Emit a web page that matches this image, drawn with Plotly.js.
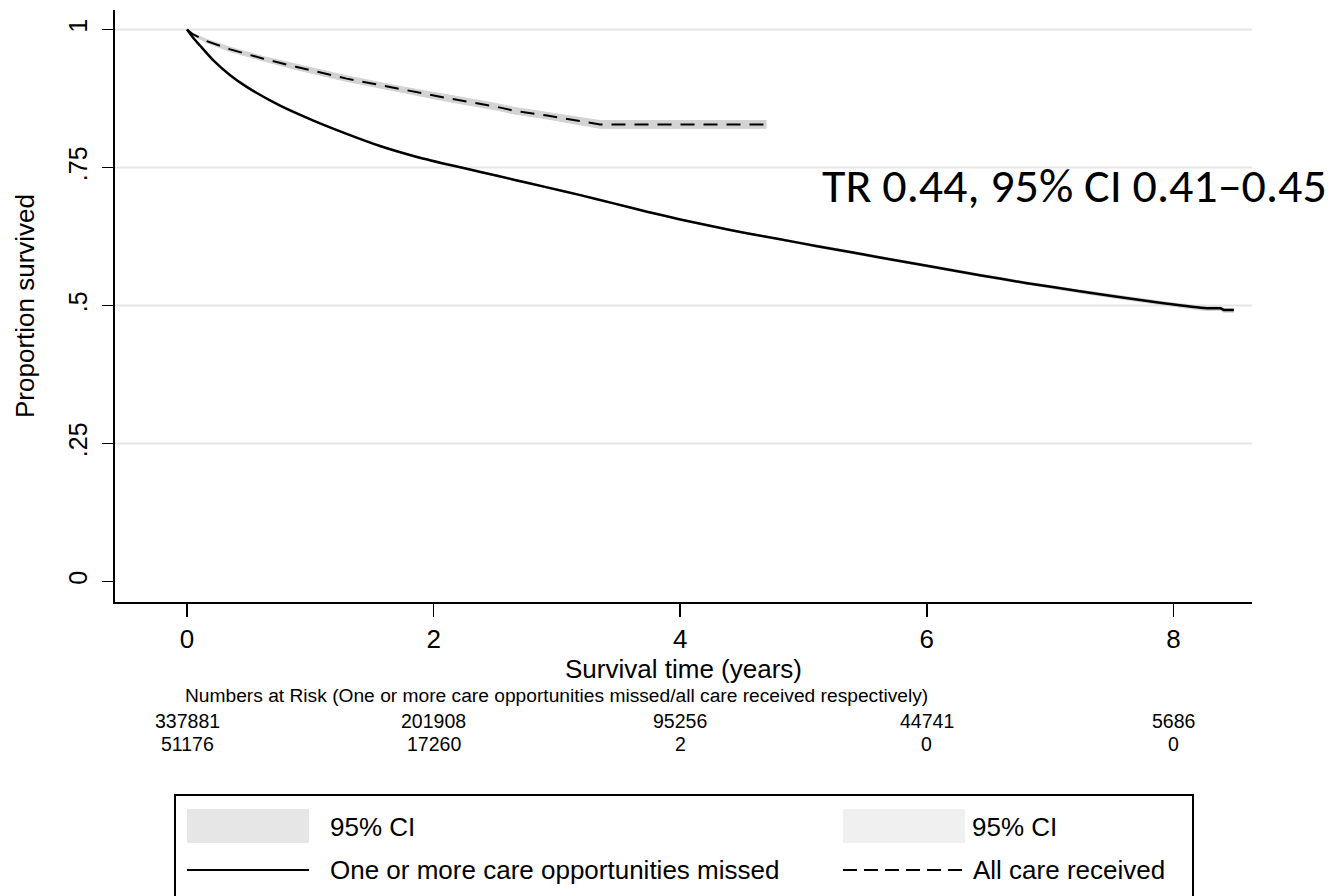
<!DOCTYPE html>
<html>
<head>
<meta charset="utf-8">
<script src="https://cdn.plot.ly/plotly-3.0.1.min.js"></script>
<style>html,body{margin:0;padding:0;background:#fff;}#chart{width:1330px;height:896px;}</style>
</head>
<body>
<div id="chart"></div>
<script>
// ---- data ----
var missedTime = [0,0.05,0.105,0.214,0.35,0.484,0.755,1.025,1.295,1.565,1.836,2.106,2.38,2.65,2.92,3.19,3.46,3.73,4.0,4.27,4.54,4.81,5.1,5.4,5.62,6.0,6.43,6.8,7.24,7.6,7.92,8.27,8.38,8.41,8.49];
var missedSurv = [1,0.985,0.971,0.944,0.917,0.896,0.862,0.835,0.811,0.789,0.771,0.756,0.742,0.728,0.714,0.700,0.685,0.670,0.656,0.643,0.631,0.620,0.608,0.596,0.587,0.572,0.555,0.541,0.526,0.514,0.504,0.495,0.495,0.492,0.492];
var missedLo   = [1,0.984,0.970,0.943,0.916,0.895,0.861,0.834,0.810,0.788,0.770,0.755,0.741,0.727,0.713,0.699,0.684,0.669,0.655,0.642,0.630,0.619,0.606,0.594,0.585,0.570,0.553,0.539,0.523,0.511,0.501,0.491,0.491,0.488,0.488];
var missedHi   = [1,0.986,0.972,0.945,0.918,0.897,0.863,0.836,0.812,0.790,0.772,0.757,0.743,0.729,0.715,0.701,0.686,0.671,0.657,0.644,0.632,0.621,0.610,0.598,0.589,0.574,0.557,0.543,0.528,0.517,0.507,0.498,0.498,0.495,0.495];

var allTime = [0,0.05,0.16,0.35,0.62,0.89,1.295,1.7,2.106,2.51,2.65,2.92,3.19,3.35,4.7];
var allSurv = [1,0.991,0.979,0.964,0.947,0.932,0.911,0.893,0.876,0.860,0.853,0.844,0.834,0.828,0.828];
var allLo   = [1,0.989,0.976,0.960,0.943,0.927,0.906,0.888,0.870,0.854,0.847,0.838,0.828,0.821,0.821];
var allHi   = [1,0.993,0.982,0.968,0.951,0.937,0.916,0.898,0.882,0.866,0.859,0.850,0.840,0.835,0.835];

var xTicks = [0,2,4,6,8];
var yTicks = [0,0.25,0.5,0.75,1];
var yTickText = ['0','.25','.5','.75','1'];
var gridVals = [0.25,0.5,0.75,1];

var riskTimes = [0,2,4,6,8];
var riskMissed = ['337881','201908','95256','44741','5686'];
var riskAll = ['51176','17260','2','0','0'];
var riskHeading = 'Numbers at Risk (One or more care opportunities missed/all care received respectively)';

var legendLabels = ['95% CI','95% CI','One or more care opportunities missed','All care received'];
var annotText = 'TR 0.44, 95% CI 0.41\u20130.45';

// ---- layout helpers (pixel -> paper) ----
var W = 1330, H = 896, ML = 115, MR = 78, MT = 10, MB = 294;
var PW = W - ML - MR, PH = H - MT - MB;
function px(x){ return (x - ML) / PW; }
function py(y){ return (H - MB - y) / PH; }

var FONT = 'Liberation Sans, Arial, sans-serif';
var CIFILL = '#d3d3d3';

var traces = [
  {x: missedTime, y: missedLo, mode:'lines', line:{color:CIFILL, width:1, shape:'spline', smoothing:0.6}, hoverinfo:'skip', showlegend:false},
  {x: missedTime, y: missedHi, mode:'lines', fill:'tonexty', fillcolor:CIFILL, line:{color:CIFILL, width:1, shape:'spline', smoothing:0.6}, hoverinfo:'skip', showlegend:false},
  {x: allTime, y: allLo, mode:'lines', line:{color:CIFILL, width:1}, hoverinfo:'skip', showlegend:false},
  {x: allTime, y: allHi, mode:'lines', fill:'tonexty', fillcolor:CIFILL, line:{color:CIFILL, width:1}, hoverinfo:'skip', showlegend:false},
  {x: missedTime, y: missedSurv, mode:'lines', line:{color:'#000', width:2.5, shape:'spline', smoothing:0.6}, name:legendLabels[2], showlegend:false},
  {x: allTime, y: allSurv, mode:'lines', line:{color:'#000', width:2, dash:'14px,9px'}, name:legendLabels[3], showlegend:false}
];

var shapes = [];
gridVals.forEach(function(v){
  shapes.push({type:'line', xref:'paper', yref:'y', x0:0, x1:1, y0:v, y1:v, layer:'below', line:{color:'#e6e6e6', width:2}});
});
// legend box
shapes.push({type:'rect', xref:'paper', yref:'paper', x0:px(175), x1:px(1193), y0:py(795), y1:py(920), line:{color:'#000', width:2}, fillcolor:'rgba(0,0,0,0)'});
shapes.push({type:'rect', xref:'paper', yref:'paper', x0:px(187), x1:px(309), y0:py(809), y1:py(843), line:{width:0}, fillcolor:'#e6e6e6'});
shapes.push({type:'rect', xref:'paper', yref:'paper', x0:px(843), x1:px(965), y0:py(809), y1:py(843), line:{width:0}, fillcolor:'#f0f0f0'});
shapes.push({type:'line', xref:'paper', yref:'paper', x0:px(187), x1:px(309), y0:py(870), y1:py(870), line:{color:'#000', width:2}});
shapes.push({type:'line', xref:'paper', yref:'paper', x0:px(843), x1:px(965), y0:py(870), y1:py(870), line:{color:'#000', width:2, dash:'14px,7px'}});

var annotations = [];
annotations.push({xref:'paper', yref:'paper', x:px(820), y:py(186), xanchor:'left', yanchor:'middle', text:annotText, showarrow:false, font:{family:'Carlito, Calibri, Noto Sans, sans-serif', size:48, color:'#000'}});
annotations.push({xref:'paper', yref:'paper', x:px(183), y:py(695), xanchor:'left', yanchor:'middle', text:riskHeading, showarrow:false, font:{family:FONT, size:19.2, color:'#000'}});
riskTimes.forEach(function(t,i){
  annotations.push({xref:'x', yref:'paper', x:t, y:py(721), xanchor:'center', yanchor:'middle', text:riskMissed[i], showarrow:false, font:{family:FONT, size:19.5, color:'#000'}});
  annotations.push({xref:'x', yref:'paper', x:t, y:py(744), xanchor:'center', yanchor:'middle', text:riskAll[i], showarrow:false, font:{family:FONT, size:19.5, color:'#000'}});
});
var LF = 26;
annotations.push({xref:'paper', yref:'paper', x:px(328), y:py(827), xanchor:'left', yanchor:'middle', text:legendLabels[0], showarrow:false, font:{family:FONT, size:LF, color:'#000'}});
annotations.push({xref:'paper', yref:'paper', x:px(970), y:py(827), xanchor:'left', yanchor:'middle', text:legendLabels[1], showarrow:false, font:{family:FONT, size:LF, color:'#000'}});
annotations.push({xref:'paper', yref:'paper', x:px(328), y:py(870), xanchor:'left', yanchor:'middle', text:legendLabels[2], showarrow:false, font:{family:FONT, size:LF, color:'#000'}});
annotations.push({xref:'paper', yref:'paper', x:px(971), y:py(870), xanchor:'left', yanchor:'middle', text:legendLabels[3], showarrow:false, font:{family:FONT, size:LF, color:'#000'}});

var layout = {
  width: W, height: H,
  margin: {l:ML, r:MR, t:MT, b:MB, pad:0},
  paper_bgcolor:'#fff', plot_bgcolor:'#fff',
  showlegend:false,
  font:{family:FONT, color:'#000'},
  xaxis: {
    range:[-0.584, 8.637], tickmode:'array', tickvals:xTicks, ticktext:xTicks.map(String),
    showgrid:false, zeroline:false, showline:true, linecolor:'#000', linewidth:2,
    ticks:'outside', ticklen:13, tickwidth:1.5, tickcolor:'#000',
    tickfont:{family:FONT, size:26, color:'#000'},
    title:{text:'Survival time (years)', font:{family:FONT, size:26, color:'#000'}, standoff:0},
    automargin:false, fixedrange:true
  },
  yaxis: {
    range:[-0.037, 1.0353], tickmode:'array', tickvals:yTicks, ticktext:yTickText, tickangle:-90,
    showgrid:false, zeroline:false, showline:true, linecolor:'#000', linewidth:2,
    ticks:'outside', ticklen:11, tickwidth:1.5, tickcolor:'#000', ticklabelstandoff:5,
    tickfont:{family:FONT, size:25, color:'#000'},
    title:{text:'Proportion survived', font:{family:FONT, size:26, color:'#000'}, standoff:22},
    automargin:false, fixedrange:true
  },
  shapes: shapes,
  annotations: annotations
};

Plotly.newPlot('chart', traces, layout, {displayModeBar:false, staticPlot:true});
</script>
</body>
</html>
